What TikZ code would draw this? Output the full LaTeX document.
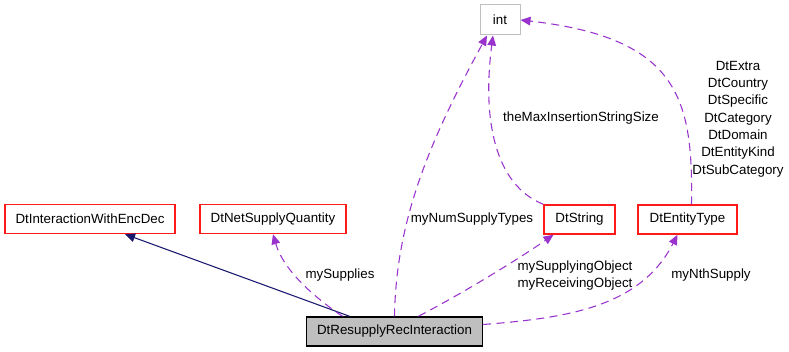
\documentclass[tikz,border=0pt]{standalone}
\usepackage{fontspec}
\setmainfont{Liberation Sans}
\usetikzlibrary{arrows.meta, calc}
\definecolor{edgepurple}{HTML}{9A32CD}
\definecolor{edgenavy}{HTML}{191970}
\definecolor{boxred}{HTML}{FF1A1A}
\definecolor{boxgrey}{HTML}{BFBFBF}

\begin{document}
\begin{tikzpicture}[
    x=0.75pt, y=-0.75pt,
    font=\fontsize{10}{13}\selectfont,
    >={Triangle[length=7.5pt,width=6.5pt]},
    cls/.style={rectangle, draw=#1, line width=1.1pt, fill=white, minimum height=21.75pt, inner xsep=2pt, inner ysep=0pt},
    cls/.default=boxred,
    usage/.style={->, edgepurple, line width=0.8pt, dash pattern=on 6pt off 4pt},
    inherit/.style={->, edgenavy, line width=0.8pt},
    lbl/.style={align=center, inner sep=0pt},
]
    \useasboundingbox (0,0) rectangle (789,352);

    \node[cls=boxgrey, line width=0.75pt, minimum width=30pt, minimum height=22.5pt] (intbox) at (500,20) {int};
    \node[cls, minimum width=127.5pt] (encdec) at (90,219) {DtInteractionWithEncDec};
    \node[cls, minimum width=109.5pt] (netsupply) at (273,219) {DtNetSupplyQuantity};
    \node[cls, minimum width=53.25pt] (dtstring) at (579.5,219.5) {DtString};
    \node[cls, minimum width=74.25pt] (entitytype) at (687.5,219.5) {DtEntityType};
    \node[cls=black, fill=boxgrey, minimum width=132pt] (resupply) at (394.5,331.5) {DtResupplyRecInteraction};

    % inheritance
    \draw[inherit] ($(resupply.north)+(-45,0)$) -- ($(encdec.south)+(35,0)$);

    % usage relations
    \draw[usage] ($(resupply.north)+(-52,0)$) .. controls (318,300) and (284,272) .. (netsupply.south);
    \draw[usage] (resupply.north) .. controls (396,220) and (430,140) .. ($(intbox.south)+(-13,0)$);
    \draw[usage] (dtstring.north west) .. controls (495,185) and (482,120) .. ($(intbox.south)+(-7,0)$);
    \draw[usage] ($(entitytype.north)+(4,0)$) .. controls (693,100) and (680,38) .. (intbox.east);
    \draw[usage] ($(resupply.north)+(24,0)$) .. controls (465,292) and (520,258) .. ($(dtstring.south)+(-26,0)$);
    \draw[usage] ($(resupply.east)+(0,-7)$) .. controls (565,318) and (640,308) .. ($(entitytype.south)+(-10,0)$);

    \node[lbl] (lblsupplies) at (340,275) {mySupplies};
    \node[lbl] (lblnumtypes) at (472,219) {myNumSupplyTypes};
    \node[lbl] (lblmaxsize) at (581,118) {theMaxInsertionStringSize};
    \node[lbl] (lblentity) at (738,119) {DtExtra\\DtCountry\\DtSpecific\\DtCategory\\DtDomain\\DtEntityKind\\DtSubCategory};
    \node[lbl] (lblobjects) at (575,275.5) {mySupplyingObject\\myReceivingObject};
    \node[lbl] (lblnth) at (711,275) {myNthSupply};
\end{tikzpicture}
\end{document}
